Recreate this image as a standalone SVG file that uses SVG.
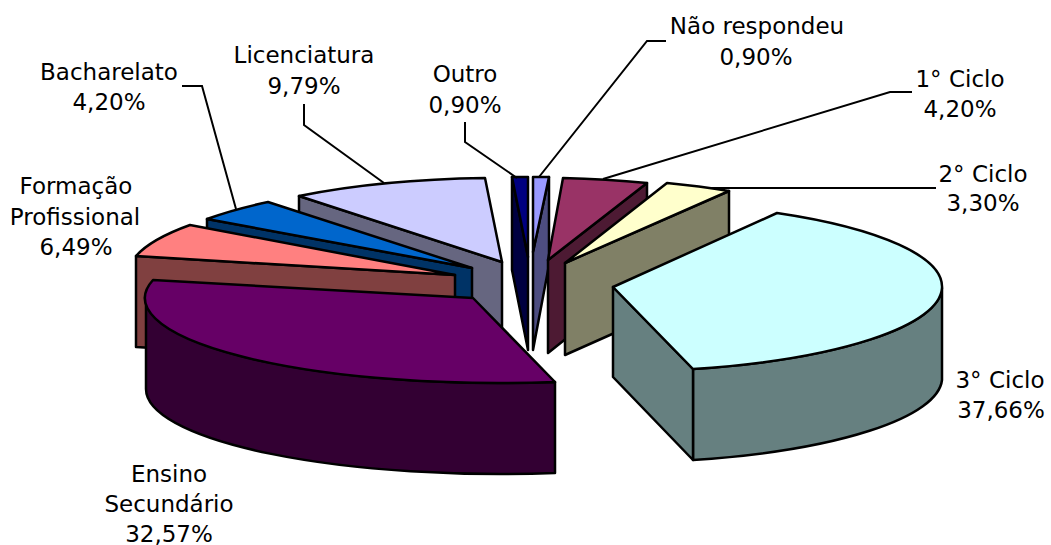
<svg xmlns="http://www.w3.org/2000/svg" width="1051" height="545" viewBox="0 0 1051 545">
<style>
.f{stroke:#000;stroke-width:2.5;stroke-linejoin:round}
.l{fill:none;stroke:#000;stroke-width:2}
text{font-family:"DejaVu Sans","Verdana",sans-serif;font-size:23px;fill:#000;text-anchor:middle}
</style>
<rect width="1051" height="545" fill="#fff"/>
<g id="slice-outro">
<path class="f" fill="#000040" d="M512,177 L528,257 L528,350 L512,270 Z"/>
<path class="f" fill="#000080" d="M512,177 L528,177 L528,257 Z"/>
</g>
<g id="slice-nao-respondeu">
<path class="f" fill="#4D4D80" d="M549,177 L549,265 L533,350 L533,252 Z"/>
<path class="f" fill="#9999FF" d="M533,177 L549,177 L533,252 Z"/>
</g>
<g id="slice-licenciatura">
<path class="f" fill="#666680" d="M299,196 L502,262 L502,353 L299,287 Z"/>
<path class="f" fill="#CCCCFF" d="M299,196 A330,86 0 0 1 485,178 L502,262 Z"/>
</g>
<g id="slice-1-ciclo">
<path class="f" fill="#4D1A33" d="M548,260 L647,183 L647,274 L548,353 Z"/>
<path class="f" fill="#993366" d="M563,178 A330,86 0 0 1 647,183 L548,260 Z"/>
</g>
<g id="slice-bacharelato">
<path class="f" fill="#003366" d="M207,219 L472,268 L472,359 L207,310 Z"/>
<path class="f" fill="#0066CC" d="M207,219 A330,86 0 0 1 268,202 L472,268 Z"/>
</g>
<g id="slice-2-ciclo">
<path class="f" fill="#808066" d="M565,263 L729,191 L729,282 L565,355 Z"/>
<path class="f" fill="#FFFFCC" d="M667,183 A330,86 0 0 1 729,191 L565,263 Z"/>
</g>
<g id="slice-formacao">
<path class="f" fill="#804040" d="M136,256 L455,275 L455,366 L136,347 Z"/>
<path class="f" fill="#FF8080" d="M136,256 A330,86 0 0 1 190,225 L455,275 Z"/>
</g>
<g id="slice-ensino">
<path class="f" fill="#330033" d="M555,382 A354,85 0 0 1 146,298 L146,389 A354,85 0 0 0 555,473 Z"/>
<path class="f" fill="#660066" d="M473,298 L555,382 A354,85 0 0 1 153,280 Z"/>
</g>
<g id="slice-3-ciclo">
<path class="f" fill="#668080" d="M942,288 A329,85 0 0 1 693,369 L693,460 A329,85 0 0 0 942,380 Z"/>
<path class="f" fill="#668080" d="M613,287 L693,369 L693,460 L613,377 Z"/>
<path class="f" fill="#CCFFFF" d="M613,287 L777,213 A329,85 0 0 1 942,288 A329,85 0 0 1 693,369 Z"/>
</g>
<g id="connectors">
<polyline class="l" points="182,86 202,86 236,209"/>
<polyline class="l" points="304,104 304,125 384,183"/>
<polyline class="l" points="465,122 465,142 517,178"/>
<polyline class="l" points="666,41 647,41 539,177"/>
<polyline class="l" points="912,92 890,92 603,179"/>
<polyline class="l" points="936,188 709,188"/>
</g>
<g id="labels">
<text x="757" y="34">Não respondeu</text>
<text x="756" y="65">0,90%</text>
<text x="960" y="87">1° Ciclo</text>
<text x="960" y="117">4,20%</text>
<text x="983" y="182">2° Ciclo</text>
<text x="983" y="211">3,30%</text>
<text x="1000" y="388">3° Ciclo</text>
<text x="1001" y="418">37,66%</text>
<text x="169" y="482">Ensino</text>
<text x="169" y="512">Secundário</text>
<text x="169" y="542">32,57%</text>
<text x="76" y="194">Formação</text>
<text x="75" y="225">Profissional</text>
<text x="76" y="255">6,49%</text>
<text x="109" y="80">Bacharelato</text>
<text x="109" y="110">4,20%</text>
<text x="304" y="63">Licenciatura</text>
<text x="304" y="94">9,79%</text>
<text x="465" y="82">Outro</text>
<text x="465" y="113">0,90%</text>
</g>
</svg>
